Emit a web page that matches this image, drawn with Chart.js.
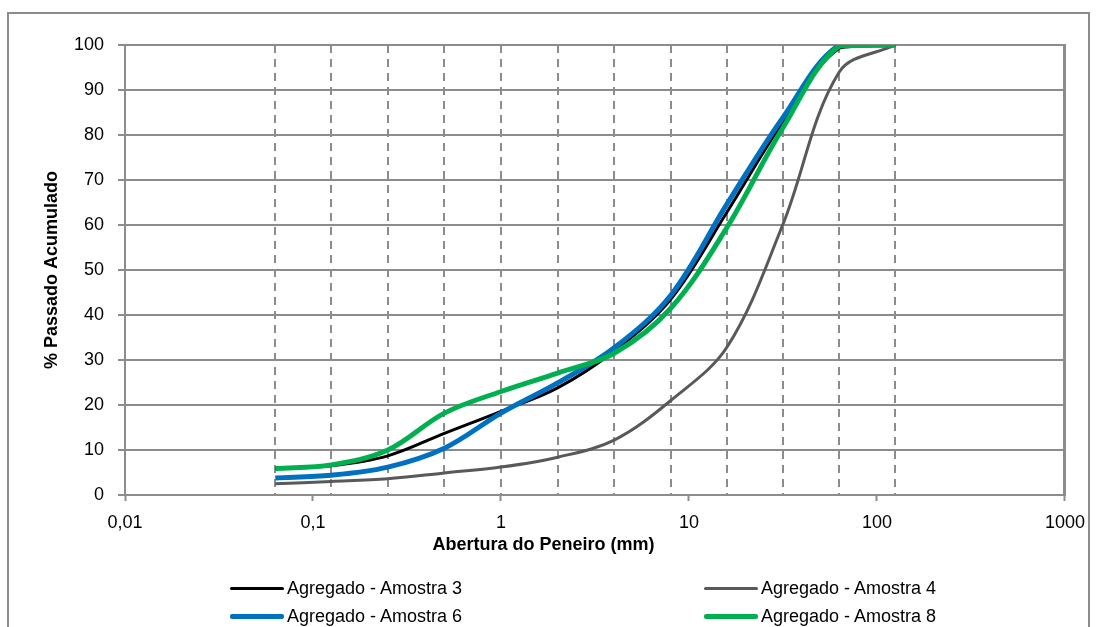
<!DOCTYPE html>
<html>
<head>
<meta charset="utf-8">
<script src="https://cdn.jsdelivr.net/npm/chart.js@4.4.1/dist/chart.umd.min.js"></script>
<style>
  body { margin: 0; background: #fff; }
  #wrap { position: relative; width: 1096px; height: 627px; overflow: hidden; font-family: 'Liberation Sans', Arial, sans-serif; }
  #moldura { position: absolute; left: 7px; top: 12px; width: 1083px; height: 700px; border: 2px solid #8c8c8c; box-sizing: border-box; }
  canvas { position: absolute; left: 0; top: 0; }
  .leg { position: absolute; height: 22px; line-height: 22px; font-size: 18px; color: #000; white-space: nowrap; display: flex; align-items: center; }
  .leg .linha { display: inline-block; width: 54px; margin-right: 3px; border-radius: 2px; }
</style>
</head>
<body>
<div id="wrap">
  <div id="moldura"></div>
  <canvas id="grafico" width="1096" height="627"></canvas>
  <div id="legenda"></div>
</div>
<script>
// Aberturas das peneiras (mm)
const aberturas = [0.063, 0.125, 0.25, 0.5, 1, 2, 4, 8, 16, 31.5, 63, 125];

// % passado acumulado de cada amostra
const amostra3 = [5.9, 6.5, 8.7, 13.7, 18.6, 23.8, 32.0, 43.5, 63.0, 82.8, 99.3, 100];
const amostra4 = [2.5, 3.0, 3.6, 4.9, 6.2, 8.4, 12.2, 21.0, 33.0, 60.0, 94.0, 100];
const amostra6 = [3.8, 4.4, 6.2, 10.4, 18.2, 24.9, 32.7, 44.4, 64.8, 83.8, 100, 100];
const amostra8 = [5.9, 6.7, 10.0, 18.2, 23.0, 27.1, 31.5, 41.5, 59.6, 81.5, 99.8, 100];

const nomesSeries = ['Agregado - Amostra 3', 'Agregado - Amostra 4', 'Agregado - Amostra 6', 'Agregado - Amostra 8'];
const valoresSeries = [amostra3, amostra4, amostra6, amostra8];

// Marcas do eixo x (décadas) e seus rótulos
const marcasX = [0.01, 0.1, 1, 10, 100, 1000];
const rotulosX = ['0,01', '0,1', '1', '10', '100', '1000'];

const coresSeries = ['#000000', '#595959', '#0070C0', '#00B050'];
const espessuras = [3, 3, 5, 5];
const corGrade = '#8c8c8c';
const fonte = { family: "'Liberation Sans', Arial, sans-serif", size: 18 };

const datasets = valoresSeries.map((serie, i) => ({
    label: nomesSeries[i],
    data: aberturas.map((a, j) => ({ x: a, y: serie[j] })),
    borderColor: coresSeries[i],
    backgroundColor: coresSeries[i],
    borderWidth: espessuras[i],
    pointRadius: 0,
    tension: 0.35,
    fill: false,
    order: valoresSeries.length - i
}));

const grafico = new Chart(document.getElementById('grafico').getContext('2d'), {
    type: 'line',
    data: { datasets: datasets },
    options: {
        responsive: false,
        animation: false,
        layout: { padding: { left: 20, right: 29, top: 45, bottom: 67 } },
        scales: {
            x: {
                type: 'logarithmic',
                position: 'bottom',
                min: 0.01,
                max: 1000,
                afterBuildTicks: (escala) => { escala.ticks = marcasX.map(v => ({ value: v })); },
                afterFit: (escala) => { escala.height = 37.4; },
                ticks: {
                    autoSkip: false,
                    maxRotation: 0,
                    padding: 11,
                    color: '#000',
                    font: fonte,
                    callback: (valor, indice) => rotulosX[indice]
                },
                grid: { display: true, drawOnChartArea: false, drawTicks: true, tickLength: 6, tickColor: corGrade, tickWidth: 2 },
                border: { display: true, color: corGrade, width: 2 }
            },
            xs: {
                type: 'logarithmic',
                position: 'bottom',
                min: 0.01,
                max: 1000,
                afterBuildTicks: (escala) => { escala.ticks = aberturas.map(v => ({ value: v })); },
                afterFit: (escala) => { escala.height = 0; },
                ticks: { display: false },
                grid: { color: corGrade, lineWidth: 2, drawTicks: false, borderDash: [8, 6] },
                border: { display: false, dash: [8, 6] }
            },
            y: {
                min: 0,
                max: 100,
                afterFit: (escala) => { escala.width = 105; },
                ticks: { stepSize: 10, padding: 14, color: '#000', font: fonte },
                grid: { color: corGrade, lineWidth: 2, tickLength: 7 },
                border: { color: corGrade, width: 2 },
                title: {
                    display: true,
                    text: '% Passado Acumulado',
                    color: '#000',
                    font: { family: fonte.family, size: 18, weight: 'bold' },
                    padding: { top: 21, bottom: 0 }
                }
            },
            y2: {
                position: 'right',
                min: 0,
                max: 100,
                afterFit: (escala) => { escala.width = 0; },
                ticks: { display: false },
                grid: { display: false },
                border: { color: corGrade, width: 3 }
            }
        },
        plugins: {
            legend: { display: false },
            tooltip: { enabled: false },
            title: {
                display: true,
                position: 'bottom',
                text: 'Abertura do Peneiro (mm)',
                color: '#000',
                font: { family: fonte.family, size: 18, weight: 'bold' },
                padding: { top: 2, bottom: 4 }
            }
        }
    }
});

// Legenda em duas colunas, como no original
const colunasLeg = [230, 704];
const linhasLeg = [588, 616];
const legenda = document.getElementById('legenda');
grafico.data.datasets.forEach((ds, i) => {
    const item = document.createElement('div');
    item.className = 'leg';
    item.style.left = colunasLeg[i % 2] + 'px';
    item.style.top = (linhasLeg[Math.floor(i / 2)] - 11) + 'px';
    const linha = document.createElement('span');
    linha.className = 'linha';
    linha.style.height = ds.borderWidth + 'px';
    linha.style.background = ds.borderColor;
    item.appendChild(linha);
    item.appendChild(document.createTextNode(ds.label));
    legenda.appendChild(item);
});
</script>
</body>
</html>
